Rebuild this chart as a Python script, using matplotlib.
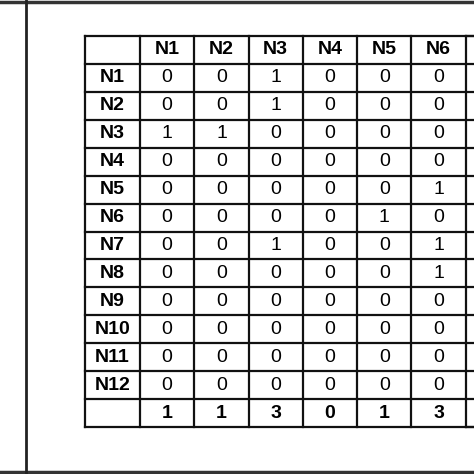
import matplotlib
matplotlib.use("Agg")
import matplotlib.pyplot as plt

cols = ["N1", "N2", "N3", "N4", "N5", "N6"]
rows = ["N1", "N2", "N3", "N4", "N5", "N6", "N7", "N8", "N9", "N10", "N11", "N12"]
values = [
    [0, 0, 1, 0, 0, 0],
    [0, 0, 1, 0, 0, 0],
    [1, 1, 0, 0, 0, 0],
    [0, 0, 0, 0, 0, 0],
    [0, 0, 0, 0, 0, 1],
    [0, 0, 0, 0, 1, 0],
    [0, 0, 1, 0, 0, 1],
    [0, 0, 0, 0, 0, 1],
    [0, 0, 0, 0, 0, 0],
    [0, 0, 0, 0, 0, 0],
    [0, 0, 0, 0, 0, 0],
    [0, 0, 0, 0, 0, 0],
]
totals = [1, 1, 3, 0, 1, 3]

fig = plt.figure(figsize=(4.74, 4.74), dpi=100)
ax = fig.add_axes([0, 0, 1, 1])
ax.set_xlim(0, 474); ax.set_ylim(474, 0); ax.axis("off")

# outer frame
ax.plot([0, 474], [1.5, 1.5], color="#333", lw=2.5)
ax.plot([0, 474], [472, 472], color="#333", lw=2.5)
ax.plot([26, 26], [0, 474], color="#222", lw=2)

x0, hw, cw = 85, 55, 54.3
y0, rh = 36, (427 - 36) / 14
xs = [x0] + [x0 + hw + i * cw for i in range(len(cols) + 1)]
nrows = len(rows) + 2
y1 = y0 + nrows * rh
for x in xs:
    ax.plot([x, x], [y0, y1], color="#111", lw=1.6)
ax.plot([xs[-1], 474], [y0, y0], color="#111", lw=1.6)
ax.plot([xs[-1], 474], [y1, y1], color="#111", lw=1.6)
for r in range(nrows + 1):
    ax.plot([x0, xs[-1] + 20], [y0 + r * rh, y0 + r * rh], color="#111", lw=1.6)

fs = 14
fam = "Liberation Sans"
def cx(j): return (xs[j + 1] + xs[j + 2]) / 2
def cy(i): return y0 + (i + 0.5) * rh
for j, c in enumerate(cols):
    ax.text(cx(j), cy(0), c, ha="center", va="center", fontsize=fs, fontweight="bold", family=fam)
for i, r in enumerate(rows):
    ax.text((xs[0] + xs[1]) / 2, cy(i + 1), r, ha="center", va="center", fontsize=fs, fontweight="bold", family=fam)
    for j, v in enumerate(values[i]):
        ax.text(cx(j), cy(i + 1), str(v), ha="center", va="center", fontsize=fs, family=fam)
for j, t in enumerate(totals):
    ax.text(cx(j), cy(nrows - 1), str(t), ha="center", va="center", fontsize=fs, fontweight="bold", family=fam)

fig.savefig("out.png", dpi=100)
